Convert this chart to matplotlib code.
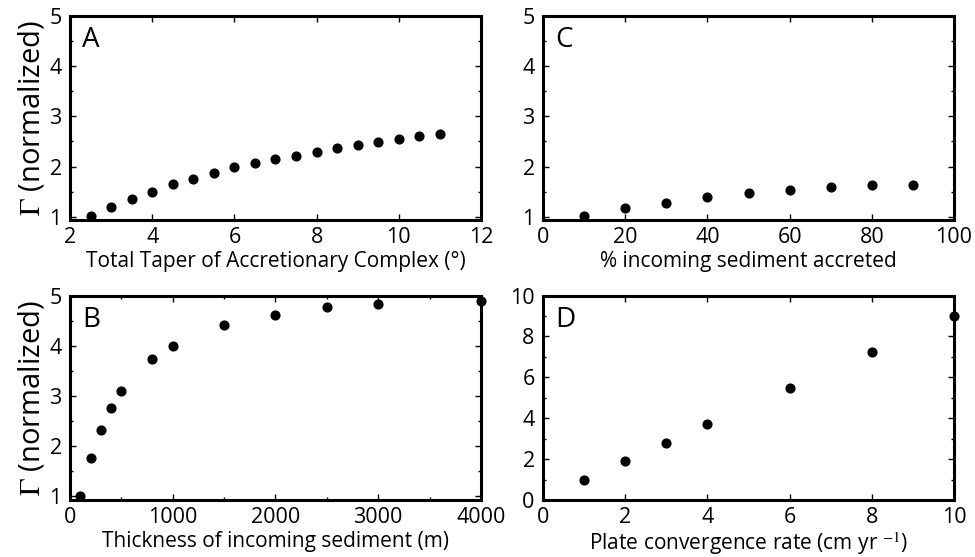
import matplotlib
matplotlib.use("Agg")
import matplotlib.pyplot as plt
from matplotlib.ticker import MultipleLocator

plt.rcParams["font.family"] = ["Open Sans", "DejaVu Sans"]
plt.rcParams["mathtext.fontset"] = "stix"

# Panel A: total taper (deg)
taper = [2.5, 3, 3.5, 4, 4.5, 5, 5.5, 6, 6.5, 7, 7.5, 8, 8.5, 9, 9.5, 10, 10.5, 11]
gamma_taper = [1.01, 1.19, 1.36, 1.50, 1.65, 1.76, 1.88, 1.99, 2.08, 2.16,
               2.22, 2.30, 2.37, 2.43, 2.49, 2.55, 2.60, 2.65]

# Panel B: thickness of incoming sediment (m)
thickness = [100, 200, 300, 400, 500, 800, 1000, 1500, 2000, 2500, 3000, 4000]
gamma_thick = [1.0, 1.75, 2.32, 2.76, 3.10, 3.73, 4.0, 4.41, 4.62, 4.77, 4.84, 4.89]

# Panel C: % sediment accreted
accreted = [10, 20, 30, 40, 50, 60, 70, 80, 90]
gamma_accr = [1.01, 1.17, 1.28, 1.39, 1.48, 1.53, 1.59, 1.63, 1.64]

# Panel D: plate convergence rate (cm/yr)
rate = [1, 2, 3, 4, 6, 8, 10]
gamma_rate = [0.96, 1.89, 2.79, 3.70, 5.48, 7.24, 9.02]

fig = plt.figure(figsize=(9.75, 5.57), dpi=100)

w = 0.4215
h = 0.367
axA = fig.add_axes([0.0718, 0.605, w, h])
axB = fig.add_axes([0.0718, 0.1023, w, h])
axC = fig.add_axes([0.557, 0.605, w, h])
axD = fig.add_axes([0.557, 0.1023, w, h])

panels = [
    (axA, taper, gamma_taper, "A", (2, 12), (0.94, 5), 2, None, 1, 0.5,
     "Total Taper of Accretionary Complex (\u00b0)"),
    (axB, thickness, gamma_thick, "B", (0, 4000), (0.92, 5), 1000, 500, 1, 0.5,
     "Thickness of incoming sediment (m)"),
    (axC, accreted, gamma_accr, "C", (0, 100), (0.94, 5), 20, None, 1, 0.5,
     "% incoming sediment accreted"),
    (axD, rate, gamma_rate, "D", (0, 10), (0, 10), 2, None, 2, 1,
     "Plate convergence rate (cm yr $^{-1}$)"),
]

for ax, x, y, letter, xl, yl, xmaj, xmin, ymaj, ymin, xlabel in panels:
    ax.plot(x, y, "o", color="black", markersize=6.3, clip_on=False, zorder=5)
    ax.set_xlim(*xl)
    ax.set_ylim(*yl)
    ax.xaxis.set_major_locator(MultipleLocator(xmaj))
    if xmin:
        ax.xaxis.set_minor_locator(MultipleLocator(xmin))
    ax.yaxis.set_major_locator(MultipleLocator(ymaj))
    ax.yaxis.set_minor_locator(MultipleLocator(ymin))
    ax.tick_params(which="both", direction="in", top=True, right=True,
                   labelsize=15.5, width=1)
    ax.tick_params(axis="x", pad=5)
    ax.tick_params(axis="y", pad=6)
    ax.tick_params(which="major", length=4)
    ax.tick_params(which="minor", length=2.5)
    for s in ax.spines.values():
        s.set_linewidth(2.2)
    ax.set_xlabel(xlabel, fontsize=15, labelpad=2)
    ax.text(0.03, 0.95, letter, transform=ax.transAxes, fontsize=20,
            ha="left", va="top")

for ax in (axA, axB):
    ax.set_ylabel(r"$\Gamma$ (normalized)", fontsize=21, labelpad=2)

fig.savefig("out.png", dpi=100)
